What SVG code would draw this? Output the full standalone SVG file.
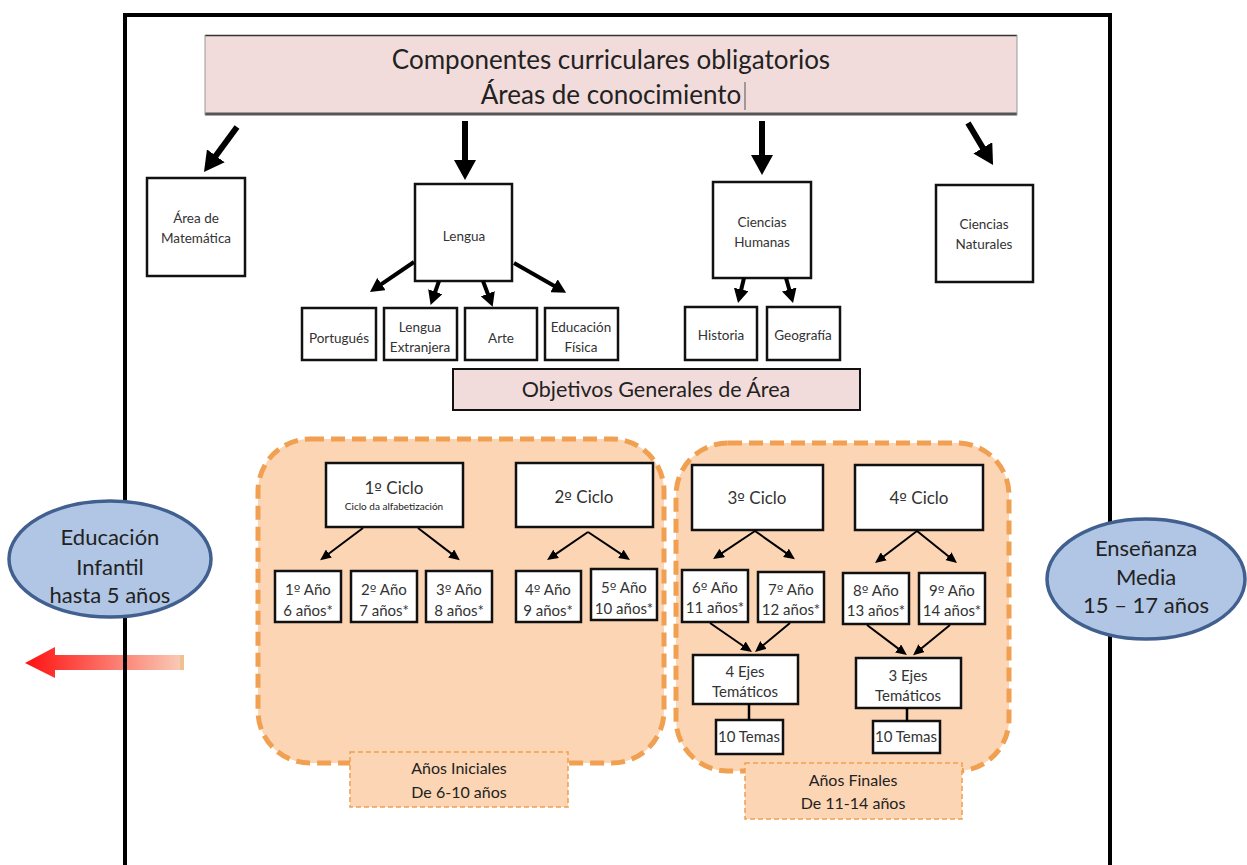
<svg xmlns="http://www.w3.org/2000/svg" width="1247" height="865" viewBox="0 0 1247 865">
<defs>
<style>
text{font-family:Lato,"Open Sans","Liberation Sans",sans-serif;fill:#222;text-anchor:middle}
.o{font-family:"DejaVu Sans","Noto Sans",sans-serif;font-size:0.95em}
.box{fill:#fff;stroke:#111;stroke-width:2.5}
.pink{fill:#f2dcdb;stroke:#111;stroke-width:2}
.panel{fill:#fcd5b4;stroke:#f0a050;stroke-width:5;stroke-dasharray:14 7}
.lbl{fill:#fcd5b4;stroke:#f0a050;stroke-width:1.5;stroke-dasharray:5 3}
.ell{fill:#b0c6e4;stroke:#41608f;stroke-width:3.5}
.big{stroke:#000;stroke-width:6;fill:none;marker-end:url(#hb)}
.med{stroke:#000;stroke-width:4;fill:none;marker-end:url(#hm)}
.sm{stroke:#000;stroke-width:2;fill:none;marker-end:url(#hs)}
.s13{font-size:13.5px;fill:#333}
.s14{font-size:15px;fill:#333}
.s17{font-size:17px;fill:#333}
.s22{font-size:22px}
</style>
<marker id="hb" markerUnits="userSpaceOnUse" markerWidth="20" markerHeight="22" viewBox="0 0 20 22" refX="8" refY="11" orient="auto"><path d="M0,0 L20,11 L0,22 z" fill="#000"/></marker>
<marker id="hm" markerUnits="userSpaceOnUse" markerWidth="14" markerHeight="15" viewBox="0 0 14 15" refX="5" refY="7.5" orient="auto"><path d="M0,0 L14,7.5 L0,15 z" fill="#000"/></marker>
<marker id="hs" markerUnits="userSpaceOnUse" markerWidth="11" markerHeight="10" viewBox="0 0 11 10" refX="4" refY="5" orient="auto"><path d="M0,0 L11,5 L0,10 z" fill="#000"/></marker>
<linearGradient id="red" x1="25" y1="0" x2="183" y2="0" gradientUnits="userSpaceOnUse"><stop offset="0" stop-color="#ff1010"/><stop offset="1" stop-color="#f9cdb8"/></linearGradient>
</defs>
<rect width="1247" height="865" fill="#fff"/>

<g id="red-arrow">
<polygon points="25,663 55,647 55,655 180,655 180,670 55,670 55,678" fill="url(#red)"/>
<rect x="180" y="655" width="4" height="15" fill="#f0c090"/>
</g>

<g id="frame" stroke="#000" stroke-width="4" fill="none">
<path d="M125,865 V15 H1110 V865"/>
</g>

<g id="title">
<rect x="205" y="35" width="812" height="80" fill="#f2dcdb"/>
<line x1="205" y1="35.5" x2="1017" y2="35.5" stroke="#333" stroke-width="1.5"/>
<line x1="205" y1="114" x2="1017" y2="114" stroke="#555" stroke-width="3"/>
<line x1="1017" y1="35" x2="1017" y2="115" stroke="#999" stroke-width="1"/>
<line x1="205" y1="35" x2="205" y2="115" stroke="#999" stroke-width="1"/>
<text x="611" y="69" font-size="26">Componentes curriculares obligatorios</text>
<text x="611" y="104" font-size="26">Áreas de conocimiento</text>
<line x1="745" y1="82" x2="745" y2="110" stroke="#555" stroke-width="1"/>
</g>

<g id="n-matematica"><rect class="box" x="147" y="178" width="98" height="98"/><text class="s13" x="196" y="223">Área de</text><text class="s13" x="196" y="243">Matemática</text></g>
<g id="n-lengua"><rect class="box" x="415" y="184" width="97" height="97"/><text class="s13" x="464" y="241">Lengua</text></g>
<g id="n-humanas"><rect class="box" x="713" y="182" width="98" height="96"/><text class="s13" x="762" y="227">Ciencias</text><text class="s13" x="762" y="247">Humanas</text></g>
<g id="n-naturales"><rect class="box" x="936" y="185" width="97" height="97"/><text class="s13" x="984" y="229">Ciencias</text><text class="s13" x="984" y="249">Naturales</text></g>

<g id="n-portugues"><rect class="box" x="302" y="308" width="74" height="52"/><text class="s13" x="339" y="343">Portugués</text></g>
<g id="n-extranjera"><rect class="box" x="384" y="308" width="73" height="52"/><text class="s13" x="420" y="332">Lengua</text><text class="s13" x="420" y="352">Extranjera</text></g>
<g id="n-arte"><rect class="box" x="465" y="308" width="72" height="52"/><text class="s13" x="501" y="343">Arte</text></g>
<g id="n-fisica"><rect class="box" x="545" y="308" width="73" height="52"/><text class="s13" x="581" y="332">Educación</text><text class="s13" x="581" y="352">Física</text></g>
<g id="n-historia"><rect class="box" x="685" y="307" width="72" height="53"/><text class="s13" x="721" y="340">Historia</text></g>
<g id="n-geografia"><rect class="box" x="767" y="307" width="73" height="53"/><text class="s13" x="803" y="340">Geografía</text></g>

<g id="n-objetivos"><rect class="pink" x="453" y="369" width="407" height="41"/><text x="656" y="397" font-size="21.5">Objetivos Generales de Área</text></g>

<g id="panel-iniciales"><rect class="panel" x="258" y="439" width="406" height="324" rx="52"/></g>
<g id="panel-finales"><rect class="panel" x="676" y="443" width="333" height="328" rx="52"/></g>
<g id="lbl-iniciales"><rect class="lbl" x="350" y="752" width="218" height="55"/><text x="459" y="774" font-size="16" fill="#333">Años Iniciales</text><text x="459" y="798" font-size="16" fill="#333">De 6-10 años</text></g>
<g id="lbl-finales"><rect class="lbl" x="745" y="763" width="217" height="56"/><text x="853" y="786" font-size="16" fill="#333">Años Finales</text><text x="853" y="809" font-size="16" fill="#333">De 11-14 años</text></g>

<g id="n-ciclo1"><rect class="box" x="326" y="463" width="137" height="64"/><text class="s17" x="394" y="494">1<tspan class="o">º</tspan> Ciclo</text><text x="394" y="510" font-size="10" fill="#333">Ciclo da alfabetización</text></g>
<g id="n-ciclo2"><rect class="box" x="516" y="463" width="137" height="64"/><text class="s17" x="584" y="503">2<tspan class="o">º</tspan> Ciclo</text></g>
<g id="n-ciclo3"><rect class="box" x="692" y="465" width="131" height="65"/><text class="s17" x="757" y="504">3<tspan class="o">º</tspan> Ciclo</text></g>
<g id="n-ciclo4"><rect class="box" x="855" y="465" width="128" height="65"/><text class="s17" x="919" y="504">4<tspan class="o">º</tspan> Ciclo</text></g>

<g id="n-ano1"><rect class="box" x="275" y="571" width="66" height="51"/><text class="s14" x="308" y="595">1<tspan class="o">º</tspan> Año</text><text class="s14" x="308" y="616">6 años*</text></g>
<g id="n-ano2"><rect class="box" x="351" y="571" width="66" height="51"/><text class="s14" x="384" y="595">2<tspan class="o">º</tspan> Año</text><text class="s14" x="384" y="616">7 años*</text></g>
<g id="n-ano3"><rect class="box" x="426" y="571" width="66" height="51"/><text class="s14" x="459" y="595">3<tspan class="o">º</tspan> Año</text><text class="s14" x="459" y="616">8 años*</text></g>
<g id="n-ano4"><rect class="box" x="516" y="571" width="65" height="51"/><text class="s14" x="548" y="595">4<tspan class="o">º</tspan> Año</text><text class="s14" x="548" y="616">9 años*</text></g>
<g id="n-ano5"><rect class="box" x="591" y="569" width="66" height="51"/><text class="s14" x="624" y="593">5<tspan class="o">º</tspan> Año</text><text class="s14" x="624" y="614">10 años*</text></g>
<g id="n-ano6"><rect class="box" x="682" y="570" width="66" height="52"/><text class="s14" x="715" y="593">6<tspan class="o">º</tspan> Año</text><text class="s14" x="715" y="613">11 años*</text></g>
<g id="n-ano7"><rect class="box" x="758" y="572" width="66" height="50"/><text class="s14" x="791" y="595">7<tspan class="o">º</tspan> Año</text><text class="s14" x="791" y="615">12 años*</text></g>
<g id="n-ano8"><rect class="box" x="843" y="573" width="66" height="51"/><text class="s14" x="876" y="596">8<tspan class="o">º</tspan> Año</text><text class="s14" x="876" y="616">13 años*</text></g>
<g id="n-ano9"><rect class="box" x="919" y="573" width="66" height="51"/><text class="s14" x="952" y="596">9<tspan class="o">º</tspan> Año</text><text class="s14" x="952" y="616">14 años*</text></g>

<g id="n-ejes4"><rect class="box" x="693" y="655" width="105" height="49"/><text class="s14" x="745" y="677">4 Ejes</text><text class="s14" x="745" y="697">Temáticos</text></g>
<g id="n-ejes3"><rect class="box" x="856" y="658" width="105" height="50"/><text class="s14" x="908" y="681">3 Ejes</text><text class="s14" x="908" y="701">Temáticos</text></g>
<g id="n-temas1"><rect class="box" x="716" y="720" width="67" height="34"/><text class="s14" x="749" y="742">10 Temas</text></g>
<g id="n-temas2"><rect class="box" x="873" y="721" width="67" height="32"/><text class="s14" x="906" y="742">10 Temas</text></g>

<g id="n-infantil"><ellipse class="ell" cx="110" cy="559" rx="101" ry="58"/><text class="s22" x="110" y="545">Educación</text><text class="s22" x="110" y="575">Infantil</text><text class="s22" x="110" y="603">hasta 5 años</text></g>
<g id="n-media"><ellipse class="ell" cx="1146" cy="579" rx="99" ry="60"/><text class="s22" x="1146" y="556">Enseñanza</text><text class="s22" x="1146" y="585">Media</text><text class="s22" x="1146" y="613">15 – 17 años</text></g>

<g id="connectors">
<line class="big" x1="237" y1="127" x2="211.1" y2="162.3"/>
<line class="big" x1="465" y1="121" x2="465" y2="168"/>
<line class="big" x1="762" y1="121" x2="762" y2="163"/>
<line class="big" x1="968" y1="123" x2="986.9" y2="154.7"/>
<line class="med" x1="414" y1="262" x2="377.4" y2="286.9"/>
<line class="med" x1="439" y1="281" x2="433.6" y2="296.4"/>
<line class="med" x1="483" y1="281" x2="489.5" y2="298.4"/>
<line class="med" x1="514" y1="263" x2="558.3" y2="288.3"/>
<line class="med" x1="744" y1="278" x2="740.1" y2="294.3"/>
<line class="med" x1="786" y1="278" x2="790.6" y2="294.3"/>
<line class="sm" x1="363" y1="528" x2="325.7" y2="556"/>
<line class="sm" x1="418" y1="528" x2="454.3" y2="555.9"/>
<line class="sm" x1="588" y1="532" x2="552.8" y2="556.1"/>
<line class="sm" x1="588" y1="532" x2="624.2" y2="556.1"/>
<line class="sm" x1="755" y1="531" x2="718.9" y2="555.2"/>
<line class="sm" x1="755" y1="531" x2="789.2" y2="555.1"/>
<line class="sm" x1="917" y1="531" x2="880.6" y2="558.8"/>
<line class="sm" x1="917" y1="531" x2="951.5" y2="558.7"/>
<line class="sm" x1="710" y1="623" x2="746.2" y2="648"/>
<line class="sm" x1="790" y1="623" x2="760.4" y2="647.5"/>
<line class="sm" x1="867" y1="625" x2="901.3" y2="650.9"/>
<line class="sm" x1="950" y1="625" x2="918.5" y2="650.7"/>
<line x1="749" y1="704" x2="749" y2="720" stroke="#000" stroke-width="2.5"/>
<line x1="907" y1="708" x2="907" y2="721" stroke="#000" stroke-width="2.5"/>
</g>
</svg>
